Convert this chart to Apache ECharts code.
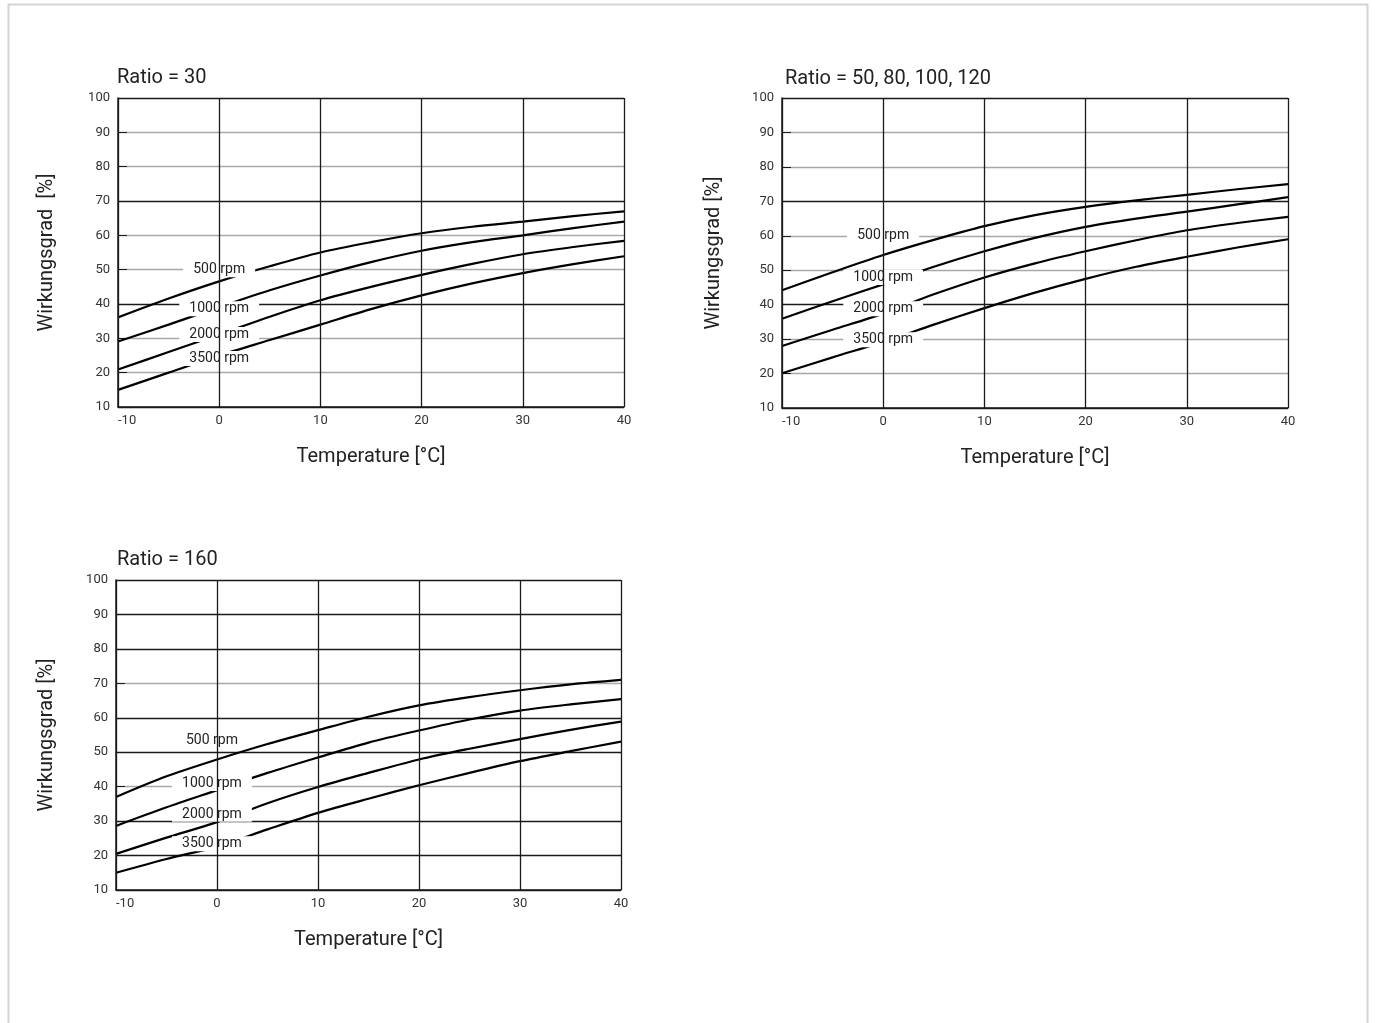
<!DOCTYPE html>
<html>
<head>
<meta charset="utf-8">
<script src="https://cdn.jsdelivr.net/npm/echarts@6/dist/echarts.min.js"></script>
<style>
html,body{margin:0;padding:0;background:#fff;}
#main{width:1375px;height:1023px;}
</style>
</head>
<body>
<div id="main"></div>
<script>
// ---- data ----
var temperatures = [-10, -5, 0, 5, 10, 15, 20, 25, 30, 35, 40];
var rpmNames = ['500 rpm', '1000 rpm', '2000 rpm', '3500 rpm'];
var chartTitles = ['Ratio = 30', 'Ratio = 50, 80, 100, 120', 'Ratio = 160'];
var yNames = ['Wirkungsgrad  [%]', 'Wirkungsgrad [%]', 'Wirkungsgrad [%]'];
var xName = 'Temperature [°C]';

// Ratio = 30
var r30_500  = [36.1, 41.6, 46.6, 51.0, 55.0, 58.0, 60.6, 62.5, 64.0, 65.6, 67.0];
var r30_1000 = [29.1, 34.0, 39.1, 44.0, 48.3, 52.2, 55.5, 58.0, 60.0, 62.1, 64.0];
var r30_2000 = [20.9, 26.0, 31.1, 36.3, 41.1, 45.0, 48.5, 51.7, 54.5, 56.6, 58.4];
var r30_3500 = [15.0, 20.0, 25.0, 29.5, 34.0, 38.5, 42.5, 46.0, 49.0, 51.6, 53.9];
// Ratio = 50, 80, 100, 120
var r50_500  = [44.2, 49.4, 54.4, 58.8, 62.8, 66.0, 68.4, 70.3, 71.9, 73.5, 75.0];
var r50_1000 = [35.9, 41.0, 45.9, 51.0, 55.5, 59.4, 62.6, 65.0, 67.0, 69.1, 71.2];
var r50_2000 = [28.0, 32.7, 37.4, 43.0, 47.9, 52.0, 55.5, 58.7, 61.6, 63.7, 65.5];
var r50_3500 = [20.1, 24.7, 29.2, 34.2, 39.0, 43.5, 47.5, 51.0, 53.9, 56.6, 59.0];
// Ratio = 160
var r160_500  = [37.0, 43.0, 47.9, 52.4, 56.4, 60.3, 63.6, 66.0, 68.0, 69.7, 71.0];
var r160_1000 = [28.6, 34.0, 39.0, 44.0, 48.5, 52.8, 56.3, 59.5, 62.1, 63.9, 65.4];
var r160_2000 = [20.5, 25.2, 29.7, 35.2, 39.9, 44.0, 47.9, 51.0, 53.8, 56.5, 58.9];
var r160_3500 = [15.0, 19.0, 22.6, 27.6, 32.4, 36.5, 40.4, 44.0, 47.4, 50.3, 53.1];

// caption anchor positions (data units) for the rpm labels
var labelX = [0, 0, -0.5];
var labelY30  = [50.0, 38.6, 31.1, 24.1];
var labelY50  = [60.2, 47.9, 38.8, 29.8];
var labelY160 = [53.3, 40.9, 32.0, 23.4];

var charts = [
  [r30_500, r30_1000, r30_2000, r30_3500],
  [r50_500, r50_1000, r50_2000, r50_3500],
  [r160_500, r160_1000, r160_2000, r160_3500]
];
var labelYs = [labelY30, labelY50, labelY160];

// ---- layout / style ----
var FONT = 'Roboto, "DejaVu Sans", sans-serif';
var grids = [
  {left: 118, top: 98, width: 506, height: 309},
  {left: 782, top: 98, width: 506, height: 310},
  {left: 116, top: 580, width: 505, height: 310}
];
var yNameGaps = [61, 58, 59];
var titlePos = [{left: 117, top: 68}, {left: 785, top: 69}, {left: 117, top: 550}];
var DARK = '#1a1a1a', GRAY = '#a8a8a8';
var ySplitColors = [
  [DARK, GRAY, GRAY, DARK, GRAY, GRAY, DARK, GRAY, GRAY, DARK],
  [DARK, GRAY, GRAY, DARK, GRAY, GRAY, DARK, GRAY, GRAY, DARK],
  [DARK, DARK, DARK, GRAY, DARK, DARK, GRAY, DARK, DARK, DARK]
];

var option = {
  animation: false,
  backgroundColor: '#fff',
  textStyle: {fontFamily: FONT},
  title: [],
  grid: grids,
  xAxis: [],
  yAxis: [],
  series: [],
  graphic: [{
    type: 'rect',
    shape: {x: 8.5, y: 4.5, width: 1359, height: 1040},
    style: {fill: 'none', stroke: '#d4d4d4', lineWidth: 2},
    silent: true
  }]
};

function makeLabelRenderer() {
  return function (params, api) {
    var p = api.coord([api.value(0), api.value(1)]);
    return {
      type: 'text',
      x: p[0], y: p[1],
      z2: 10,
      style: {
        text: rpmNames[params.dataIndex],
        x: 0, y: 0,
        align: 'center', verticalAlign: 'middle',
        font: '14px ' + FONT,
        fill: '#222',
        backgroundColor: '#fff',
        padding: [1, 10, 0, 10]
      }
    };
  };
}

for (var c = 0; c < 3; c++) {
  option.title.push({
    text: chartTitles[c], left: titlePos[c].left, top: titlePos[c].top, padding: 0,
    textStyle: {fontFamily: FONT, fontSize: 20, fontWeight: 'normal', color: '#222'}
  });
  option.xAxis.push({
    type: 'value', gridIndex: c, min: -10, max: 40, interval: 10, z: 5,
    name: xName, nameLocation: 'middle', nameGap: 40,
    nameTextStyle: {fontFamily: FONT, fontSize: 20, color: '#222'},
    axisLine: {show: true, onZero: false, lineStyle: {color: DARK, width: 1.5}},
    axisTick: {show: false},
    axisLabel: {fontFamily: FONT, fontSize: 13, color: '#333', margin: 7, alignMinLabel: 'left'},
    splitLine: {show: true, lineStyle: {color: DARK, width: 1.3}}
  });
  option.yAxis.push({
    type: 'value', gridIndex: c, min: 10, max: 100, interval: 10,
    name: yNames[c], nameLocation: 'middle', nameGap: yNameGaps[c],
    nameTextStyle: {fontFamily: FONT, fontSize: 20, color: '#222'},
    axisLine: {show: true, onZero: false, lineStyle: {color: DARK, width: 1.5}},
    axisTick: {show: true, inside: true, length: 9, lineStyle: {color: DARK, width: 1}},
    axisLabel: {fontFamily: FONT, fontSize: 13, color: '#333', margin: 8},
    splitLine: {show: true, lineStyle: {color: ySplitColors[c], width: 1.3}}
  });
  for (var s = 0; s < 4; s++) {
    var pts = [];
    for (var i = 0; i < temperatures.length; i++) pts.push([temperatures[i], charts[c][s][i]]);
    option.series.push({
      type: 'line', name: rpmNames[s], xAxisIndex: c, yAxisIndex: c,
      data: pts, smooth: 0.3, symbol: 'none', z: 2,
      lineStyle: {color: '#000', width: 2.2}
    });
  }
  var lbl = [];
  for (var k = 0; k < 4; k++) lbl.push([labelX[c], labelYs[c][k]]);
  option.series.push({
    type: 'custom', xAxisIndex: c, yAxisIndex: c, z: 4,
    coordinateSystem: 'cartesian2d',
    data: lbl,
    renderItem: makeLabelRenderer(),
    silent: true
  });
}

var chart = echarts.init(document.getElementById('main'), null, {renderer: 'canvas'});
chart.setOption(option);
</script>
</body>
</html>
